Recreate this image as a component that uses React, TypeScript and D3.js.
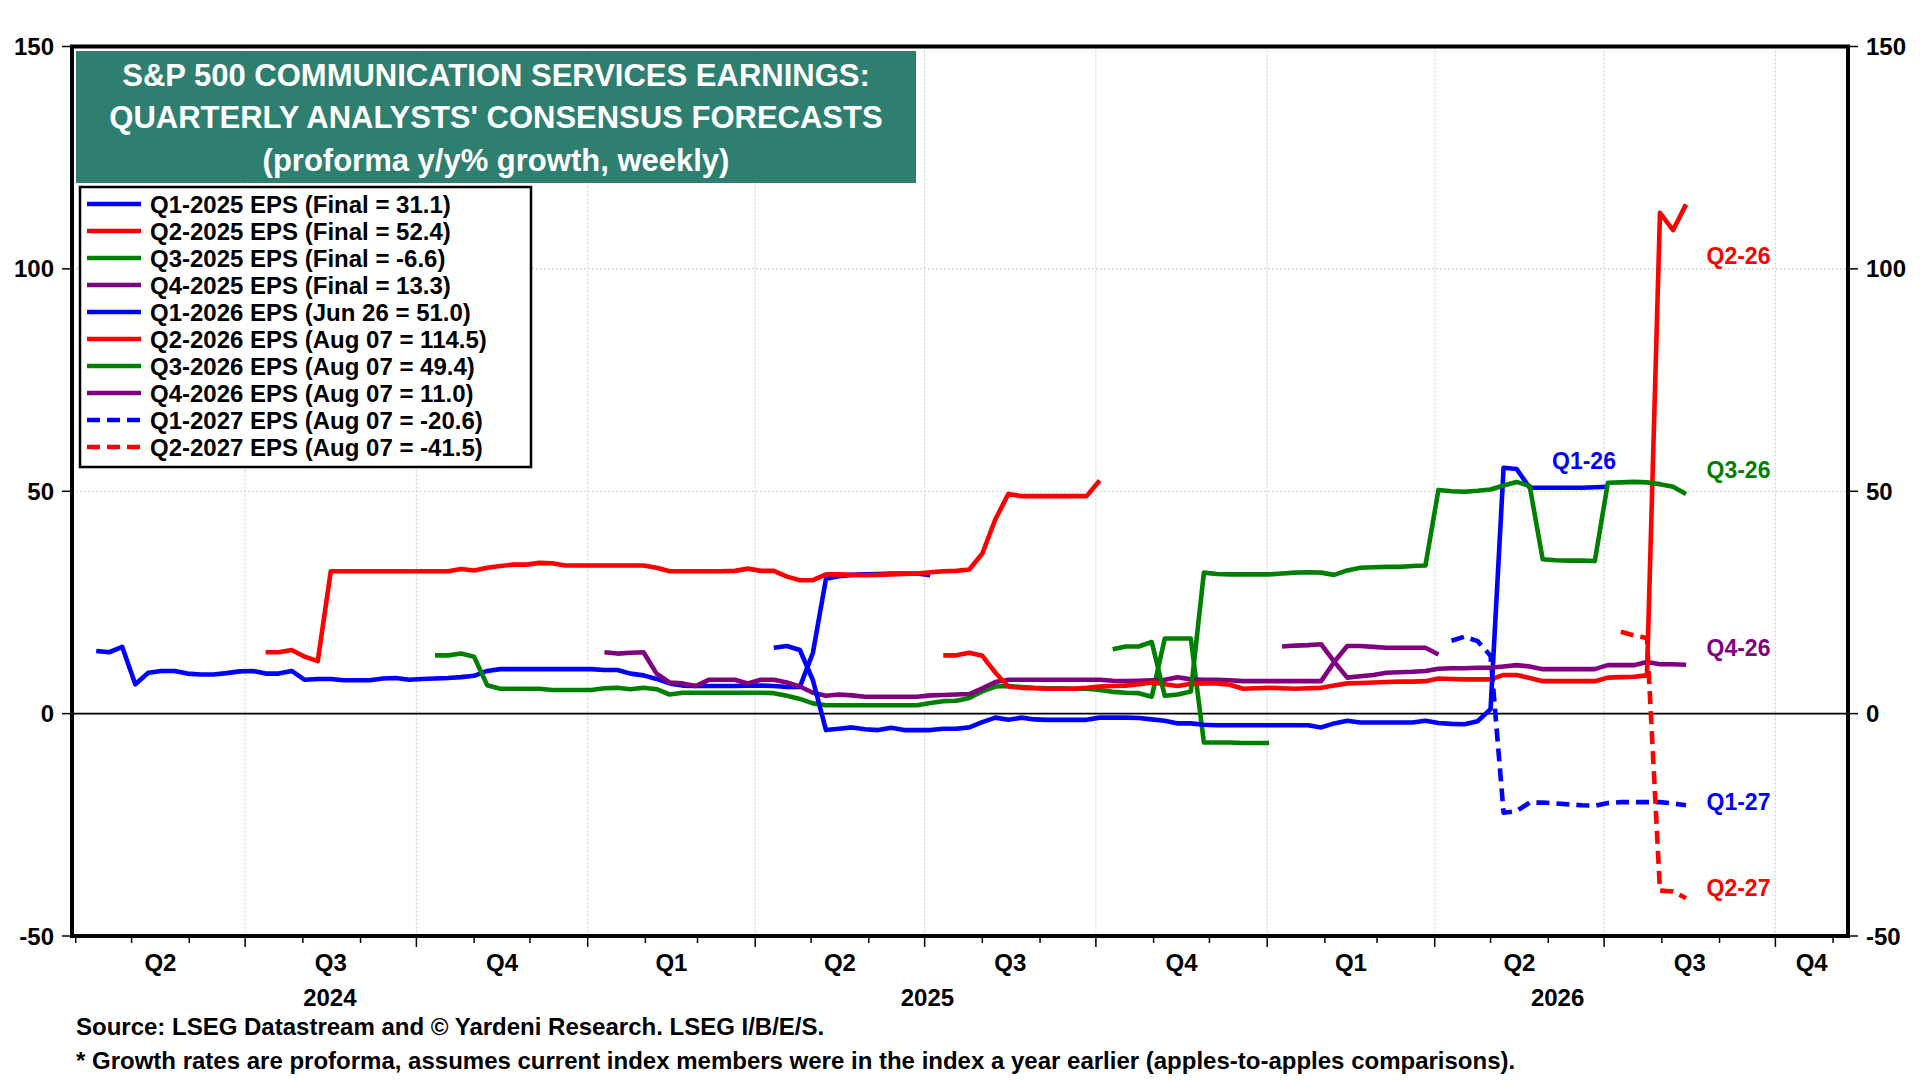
import React, { useRef, useEffect } from "react";
import * as d3 from "d3";

// Weekly consensus readings; week 0 is plotted at Apr 12, 2024
const firstWeek = Date.UTC(2024, 3, 12);

const q1_2025 = [14.1, 13.8, 15.0, 6.6, 9.2, 9.6, 9.6, 9.0, 8.8, 8.8, 9.1, 9.5, 9.6, 9.0, 9.0, 9.6, 7.6, 7.8, 7.8, 7.5, 7.5, 7.5, 7.9, 8.0, 7.6, 7.8, 7.9, 8.0, 8.2, 8.5, 9.6, 10.0, 10.0, 10.0, 10.0, 10.0, 10.0, 10.0, 10.0, 9.8, 9.8, 9.0, 8.6, 7.8, 6.8, 6.3, 6.2, 6.2, 6.2, 6.2, 6.3, 6.3, 6.2, 6.0, 6.0, 13.7, 30.3, 30.9, 31.2, 31.3, 31.4, 31.5, 31.5, 31.5, 31.1];
const q2_2025 = [13.8, 13.8, 14.3, 12.8, 11.8, 32.0, 32.0, 32.0, 32.0, 32.0, 32.0, 32.0, 32.0, 32.0, 32.0, 32.5, 32.2, 32.8, 33.2, 33.5, 33.5, 33.9, 33.8, 33.3, 33.3, 33.3, 33.3, 33.3, 33.3, 33.3, 32.8, 32.0, 32.0, 32.0, 32.0, 32.0, 32.1, 32.6, 32.1, 32.1, 30.8, 30.0, 30.0, 31.3, 31.3, 31.2, 31.1, 31.2, 31.3, 31.4, 31.5, 31.8, 32.0, 32.1, 32.4, 36.0, 43.7, 49.4, 48.9, 48.9, 48.9, 48.9, 48.9, 48.9, 52.4];
const q3_2025 = [13.1, 13.1, 13.5, 12.8, 6.4, 5.6, 5.6, 5.6, 5.6, 5.3, 5.3, 5.3, 5.3, 5.7, 5.8, 5.5, 5.8, 5.5, 4.3, 4.7, 4.7, 4.7, 4.7, 4.7, 4.7, 4.7, 4.6, 4.0, 3.3, 2.3, 1.9, 1.9, 1.9, 1.9, 1.9, 1.9, 1.9, 1.9, 2.4, 2.8, 2.9, 3.5, 5.0, 6.1, 6.2, 6.0, 5.8, 5.7, 5.7, 5.6, 5.6, 5.3, 4.9, 4.7, 4.6, 3.8, 16.9, 16.9, 16.9, -6.5, -6.5, -6.5, -6.6, -6.6, -6.6];
const q4_2025 = [13.8, 13.5, 13.7, 13.8, 9.0, 7.0, 6.8, 6.2, 7.6, 7.6, 7.6, 6.8, 7.6, 7.6, 7.0, 6.1, 4.7, 4.0, 4.3, 4.1, 3.8, 3.8, 3.8, 3.8, 3.8, 4.1, 4.2, 4.3, 4.4, 5.7, 7.1, 7.6, 7.6, 7.6, 7.6, 7.6, 7.6, 7.6, 7.6, 7.4, 7.3, 7.4, 7.5, 7.6, 8.2, 7.7, 7.6, 7.6, 7.5, 7.3, 7.3, 7.3, 7.3, 7.3, 7.3, 7.3, 11.6, 15.2, 15.2, 15.0, 14.8, 14.8, 14.8, 14.8, 13.3];
const q1_2026 = [14.8, 15.2, 14.3, 7.5, -3.7, -3.4, -3.1, -3.5, -3.7, -3.2, -3.7, -3.7, -3.7, -3.4, -3.4, -3.1, -1.9, -0.9, -1.4, -0.9, -1.3, -1.4, -1.4, -1.4, -1.4, -0.9, -0.9, -0.9, -1.0, -1.3, -1.6, -2.2, -2.2, -2.5, -2.6, -2.6, -2.6, -2.6, -2.6, -2.6, -2.6, -2.6, -3.1, -2.2, -1.6, -2.0, -2.0, -2.0, -2.0, -2.0, -1.6, -2.1, -2.3, -2.4, -1.7, 1.0, 55.3, 55.0, 50.8, 50.8, 50.8, 50.8, 50.8, 50.9, 51.0];
const q2_2026 = [13.1, 13.1, 13.7, 13.0, 9.2, 6.1, 5.8, 5.7, 5.6, 5.6, 5.6, 5.8, 6.1, 6.2, 6.3, 6.6, 7.0, 6.6, 6.2, 6.7, 6.8, 6.8, 6.5, 5.6, 5.7, 5.8, 5.7, 5.6, 5.7, 5.8, 6.3, 6.8, 6.9, 7.0, 7.1, 7.2, 7.2, 7.3, 7.9, 7.8, 7.7, 7.7, 7.7, 8.7, 8.7, 8.0, 7.3, 7.3, 7.3, 7.3, 7.3, 8.1, 8.2, 8.3, 8.6, 112.6, 108.7, 114.5];
const q3_2026 = [14.5, 15.1, 15.1, 16.1, 4.0, 4.3, 5.0, 31.7, 31.4, 31.3, 31.3, 31.3, 31.3, 31.5, 31.7, 31.8, 31.7, 31.2, 32.2, 32.8, 32.9, 33.0, 33.0, 33.2, 33.3, 50.3, 50.0, 49.9, 50.1, 50.4, 51.3, 52.1, 51.2, 34.7, 34.5, 34.4, 34.4, 34.3, 51.9, 52.0, 52.1, 52.0, 51.6, 51.0, 49.4];
const q4_2026 = [15.1, 15.3, 15.4, 15.6, 11.7, 8.1, 8.4, 8.7, 9.2, 9.3, 9.4, 9.6, 10.1, 10.2, 10.2, 10.3, 10.3, 10.6, 10.9, 10.6, 10.0, 10.0, 10.0, 10.0, 10.0, 10.9, 10.9, 10.9, 11.6, 11.1, 11.1, 11.0];
const q1_2027 = [16.4, 17.3, 16.3, 13.0, -22.3, -21.9, -20.0, -20.0, -20.2, -20.4, -20.6, -20.7, -20.1, -19.9, -19.9, -19.9, -19.9, -20.2, -20.6];
const q2_2027 = [18.4, 17.6, 17.0, -39.8, -40.0, -41.5];

const seriesValues = [q1_2025, q2_2025, q3_2025, q4_2025, q1_2026, q2_2026, q3_2026, q4_2026, q1_2027, q2_2027];
const seriesStartWeek = [0, 13, 26, 39, 52, 65, 78, 91, 104, 117];
const seriesLabels = [
  "Q1-2025 EPS (Final = 31.1)",
  "Q2-2025 EPS (Final = 52.4)",
  "Q3-2025 EPS (Final = -6.6)",
  "Q4-2025 EPS (Final = 13.3)",
  "Q1-2026 EPS (Jun 26 = 51.0)",
  "Q2-2026 EPS (Aug 07 = 114.5)",
  "Q3-2026 EPS (Aug 07 = 49.4)",
  "Q4-2026 EPS (Aug 07 = 11.0)",
  "Q1-2027 EPS (Aug 07 = -20.6)",
  "Q2-2027 EPS (Aug 07 = -41.5)",
];
const BLUE = "#0000ff";
const RED = "#ff0000";
const GREEN = "#008000";
const PURPLE = "#800080";
const seriesColors = [BLUE, RED, GREEN, PURPLE, BLUE, RED, GREEN, PURPLE, BLUE, RED];
const seriesDashed = [false, false, false, false, false, false, false, false, true, true];

const yTicks = [-50, 0, 50, 100, 150];
const yGrid = [50, 100];
const years = [2024, 2025, 2026];

const titleLines = [
  "S&P 500 COMMUNICATION SERVICES EARNINGS:",
  "QUARTERLY ANALYSTS' CONSENSUS FORECASTS",
  "(proforma y/y% growth, weekly)",
];
const footnotes = [
  "Source: LSEG Datastream and \u00a9 Yardeni Research. LSEG I/B/E/S.",
  "* Growth rates are proforma, assumes current index members were in the index a year earlier (apples-to-apples comparisons).",
];

// series tags: text, colour, anchor date, anchor value
const tags: [string, string, Date, number][] = [
  ["Q2-26", RED, new Date(Date.UTC(2026, 7, 25)), 102.8],
  ["Q3-26", GREEN, new Date(Date.UTC(2026, 7, 25)), 54.7],
  ["Q4-26", PURPLE, new Date(Date.UTC(2026, 7, 25)), 14.7],
  ["Q1-27", BLUE, new Date(Date.UTC(2026, 7, 25)), -19.9],
  ["Q2-27", RED, new Date(Date.UTC(2026, 7, 25)), -39.3],
  ["Q1-26", BLUE, new Date(Date.UTC(2026, 5, 3)), 56.8],
];

export default function App() {
  const svgRef = useRef<SVGSVGElement>(null);

  useEffect(() => {
    document.body.style.margin = "0";
    if (!svgRef.current) return;

    const width = 1920;
    const height = 1080;
    const font = "'Liberation Sans', Arial, sans-serif";
    const left = 72;
    const right = 1848;
    const top = 46.5;
    const bottom = 936;

    const svg = d3.select(svgRef.current);
    svg.selectAll("*").remove();
    svg.attr("width", width).attr("height", height).style("display", "block").style("background", "#fff");

    const x = d3
      .scaleUtc()
      .domain([new Date(Date.UTC(2024, 2, 30)), new Date(Date.UTC(2026, 10, 9))])
      .range([left, right]);
    const y = d3.scaleLinear().domain([-50, 150]).range([bottom, top]);
    const [d0, d1] = x.domain();
    const weekDate = (i: number) => new Date(firstWeek + i * 7 * 86400000);

    // gridlines
    const quarters = d3.utcMonth.every(3)!.range(new Date(Date.UTC(2024, 3, 1)), d1);
    svg
      .append("g")
      .selectAll("line")
      .data(quarters.filter((d) => x(d) > left + 10))
      .join("line")
      .attr("x1", (d) => x(d))
      .attr("x2", (d) => x(d))
      .attr("y1", top)
      .attr("y2", bottom)
      .attr("stroke", "#d2d2d2")
      .attr("stroke-width", 1.2)
      .attr("stroke-dasharray", "2,2");
    svg
      .append("g")
      .selectAll("line")
      .data(yGrid)
      .join("line")
      .attr("x1", left)
      .attr("x2", right)
      .attr("y1", (d) => y(d))
      .attr("y2", (d) => y(d))
      .attr("stroke", "#d2d2d2")
      .attr("stroke-width", 1.2)
      .attr("stroke-dasharray", "2,2");

    svg
      .append("line")
      .attr("x1", left)
      .attr("x2", right)
      .attr("y1", y(0))
      .attr("y2", y(0))
      .attr("stroke", "#000")
      .attr("stroke-width", 1.6);

    // series
    const line = d3
      .line<[Date, number]>()
      .x((d) => x(d[0]))
      .y((d) => y(d[1]));
    seriesValues.forEach((vals, s) => {
      const pts = vals.map((v, i) => [weekDate(seriesStartWeek[s] + i), v] as [Date, number]);
      svg
        .append("path")
        .attr("d", line(pts))
        .attr("fill", "none")
        .attr("stroke", seriesColors[s])
        .attr("stroke-width", 4.6)
        .attr("stroke-linejoin", "round")
        .attr("stroke-dasharray", seriesDashed[s] ? "13,7" : null);
    });

    // tags at the line ends
    svg
      .append("g")
      .selectAll("text")
      .data(tags)
      .join("text")
      .attr("x", (d) => x(d[2]))
      .attr("y", (d) => y(d[3]))
      .attr("dominant-baseline", "central")
      .attr("font-family", font)
      .attr("font-weight", "bold")
      .attr("font-size", 23)
      .attr("fill", (d) => d[1])
      .text((d) => d[0]);

    // frame
    svg
      .append("rect")
      .attr("x", left)
      .attr("y", top)
      .attr("width", right - left)
      .attr("height", bottom - top)
      .attr("fill", "none")
      .attr("stroke", "#000")
      .attr("stroke-width", 4);

    // y axes, both sides
    const yAxis = svg.append("g").attr("font-family", font).attr("font-weight", "bold").attr("font-size", 24);
    yTicks.forEach((v) => {
      yAxis.append("line").attr("x1", left - 10).attr("x2", left).attr("y1", y(v)).attr("y2", y(v)).attr("stroke", "#000").attr("stroke-width", 1.5);
      yAxis.append("line").attr("x1", right).attr("x2", right + 10).attr("y1", y(v)).attr("y2", y(v)).attr("stroke", "#000").attr("stroke-width", 1.5);
      yAxis.append("text").attr("x", 54).attr("y", y(v)).attr("text-anchor", "end").attr("dominant-baseline", "central").text(v);
      yAxis.append("text").attr("x", 1866).attr("y", y(v)).attr("dominant-baseline", "central").text(v);
    });

    // x axis: month ticks, longer at quarter starts
    const months = d3.utcMonth.range(new Date(Date.UTC(2024, 3, 1)), d1);
    svg
      .append("g")
      .selectAll("line")
      .data(months)
      .join("line")
      .attr("x1", (d) => x(d))
      .attr("x2", (d) => x(d))
      .attr("y1", bottom + 2)
      .attr("y2", (d) => (d.getUTCMonth() % 3 === 0 && x(d) > left + 10 ? bottom + 11 : bottom + 7))
      .attr("stroke", "#000")
      .attr("stroke-width", 1.5);

    const xLabels = svg.append("g").attr("font-family", font).attr("font-weight", "bold").attr("font-size", 24).attr("text-anchor", "middle");
    quarters.forEach((q) => {
      const qEnd = d3.utcMonth.offset(q, 3);
      const cx = (Math.max(x(q), left) + Math.min(x(qEnd), right)) / 2;
      xLabels.append("text").attr("x", cx).attr("y", 962).attr("dominant-baseline", "central").text("Q" + (q.getUTCMonth() / 3 + 1));
    });
    years.forEach((yr) => {
      const a = new Date(Math.max(+d0, Date.UTC(yr, 0, 1)));
      const b = new Date(Math.min(+d1, Date.UTC(yr + 1, 0, 1)));
      xLabels.append("text").attr("x", (x(a) + x(b)) / 2).attr("y", 997).attr("dominant-baseline", "central").text(yr);
    });

    // footnotes
    svg
      .append("g")
      .selectAll("text")
      .data(footnotes)
      .join("text")
      .attr("x", 76)
      .attr("y", (d, i) => 1026 + i * 34)
      .attr("dominant-baseline", "central")
      .attr("font-family", font)
      .attr("font-weight", "bold")
      .attr("font-size", 24)
      .text((d) => d);

    // title box
    svg.append("rect").attr("x", 76).attr("y", 51).attr("width", 840).attr("height", 132).attr("fill", "#2f7f71");
    svg
      .append("g")
      .selectAll("text")
      .data(titleLines)
      .join("text")
      .attr("x", 496)
      .attr("y", (d, i) => [75, 117, 160][i])
      .attr("text-anchor", "middle")
      .attr("dominant-baseline", "central")
      .attr("font-family", font)
      .attr("font-weight", "bold")
      .attr("font-size", 31)
      .attr("fill", "#fff")
      .text((d) => d);

    // legend
    const lg = svg.append("g");
    lg.append("rect").attr("x", 80).attr("y", 187).attr("width", 451).attr("height", 280).attr("fill", "#fff").attr("stroke", "#000").attr("stroke-width", 2.5);
    seriesLabels.forEach((label, i) => {
      const ly = 204 + i * 27;
      lg.append("line")
        .attr("x1", 87)
        .attr("x2", 141)
        .attr("y1", ly)
        .attr("y2", ly)
        .attr("stroke", seriesColors[i])
        .attr("stroke-width", 4.6)
        .attr("stroke-dasharray", seriesDashed[i] ? "13,7" : null);
      lg.append("text")
        .attr("x", 150)
        .attr("y", ly)
        .attr("dominant-baseline", "central")
        .attr("font-family", font)
        .attr("font-weight", "bold")
        .attr("font-size", 24)
        .text(label);
    });
  }, []);

  return <svg ref={svgRef}></svg>;
}
